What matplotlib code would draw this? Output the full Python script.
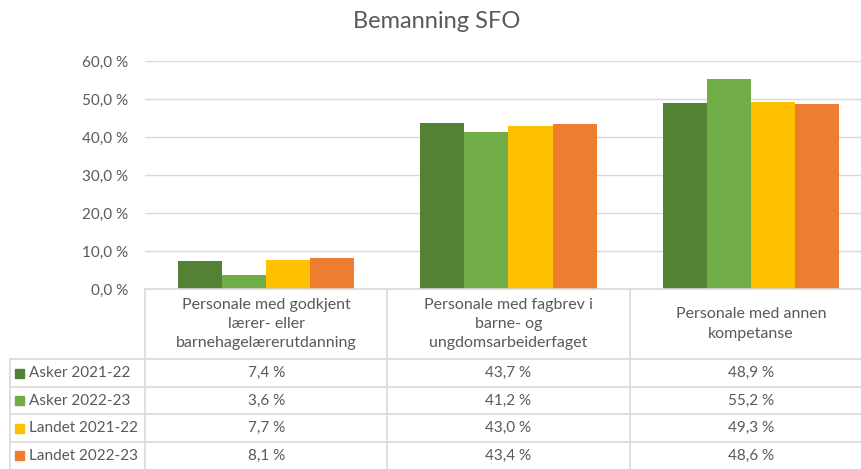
import matplotlib.pyplot as plt
from matplotlib.transforms import blended_transform_factory
from matplotlib.lines import Line2D

plt.rcParams['font.family'] = ['Lato', 'DejaVu Sans']

# data
kategorier = ["Personale med godkjent\nlærer- eller\nbarnehagelærerutdanning",
              "Personale med fagbrev i\nbarne- og\nungdomsarbeiderfaget",
              "Personale med annen\nkompetanse"]
serier = ["Asker 2021-22", "Asker 2022-23", "Landet 2021-22", "Landet 2022-23"]
asker_2122 = [7.4, 43.7, 48.9]
asker_2223 = [3.6, 41.2, 55.2]
landet_2122 = [7.7, 43.0, 49.3]
landet_2223 = [8.1, 43.4, 48.6]
verdier = [asker_2122, asker_2223, landet_2122, landet_2223]
y_ticks = [0, 10, 20, 30, 40, 50, 60]

farger = ["#548235", "#70AD47", "#FFC000", "#ED7D31"]
tekst_farge = "#595959"
linje_farge = "#D9D9D9"

W, H = 862, 469
fig = plt.figure(figsize=(W / 100, H / 100), dpi=100)


def fx(px):
    return px / W


def fy(py):
    return 1 - py / H


# plot area (right side runs past the canvas edge)
ax_left, ax_right, ax_top, ax_bottom = 145, 872, 61, 289
ax = fig.add_axes([fx(ax_left), fy(ax_bottom), fx(ax_right - ax_left), (ax_bottom - ax_top) / H])

bredde = 0.182
for i, (navn, vals) in enumerate(zip(serier, verdier)):
    xs = [k + (i - 1.5) * bredde for k in range(len(kategorier))]
    ax.bar(xs, vals, width=bredde, color=farger[i], zorder=3)

ax.set_xlim(-0.5, len(kategorier) - 0.5)
ax.set_ylim(0, 60)
ax.set_yticks(y_ticks)
ax.set_yticklabels([f"{t:.1f}".replace('.', ',') + " %" for t in y_ticks])
ax.tick_params(axis='y', length=0, pad=12, labelsize=11, labelcolor=tekst_farge)
ax.set_xticks([])
ax.grid(axis='y', color=linje_farge, linewidth=1, zorder=0)
for s in ax.spines.values():
    s.set_visible(False)

fig.text(fx(437), fy(21), "Bemanning SFO", ha='center', va='center',
         fontsize=17, color=tekst_farge)

# data table under the plot
tr = blended_transform_factory(ax.transData, fig.transFigure)
rad_linjer = [289, 359, 387, 414, 442]
for j, py in enumerate(rad_linjer):
    x0 = ax_left if j == 0 else 10
    fig.add_artist(Line2D([fx(x0), fx(W + 20)], [fy(py), fy(py)], color=linje_farge,
                          linewidth=1.2))
fig.add_artist(Line2D([fx(10), fx(10)], [fy(359), fy(H + 5)], color=linje_farge, linewidth=1.2))
for k in range(len(kategorier)):
    ax.add_artist(Line2D([k - 0.5, k - 0.5], [fy(289), fy(H + 5)], transform=tr,
                         color=linje_farge, linewidth=1.2, clip_on=False))

for k, kat in enumerate(kategorier):
    fig.text(k, fy(324), kat, transform=tr, ha='center', va='center', fontsize=11.5,
             color=tekst_farge, linespacing=1.5, multialignment='center')

rad_senter = [373, 400.5, 428, 455.5]
for i, (navn, vals) in enumerate(zip(serier, verdier)):
    py = rad_senter[i]
    fig.patches.append(plt.Rectangle((fx(15), fy(py + 4.5)), fx(9), 9 / H,
                                     transform=fig.transFigure, color=farger[i]))
    fig.text(fx(29), fy(py), navn, ha='left', va='center', fontsize=11, color=tekst_farge)
    for k, v in enumerate(vals):
        fig.text(k, fy(py), f"{v:.1f}".replace('.', ',') + " %", transform=tr,
                 ha='center', va='center', fontsize=11, color=tekst_farge)

fig.savefig("out.png", dpi=100)
